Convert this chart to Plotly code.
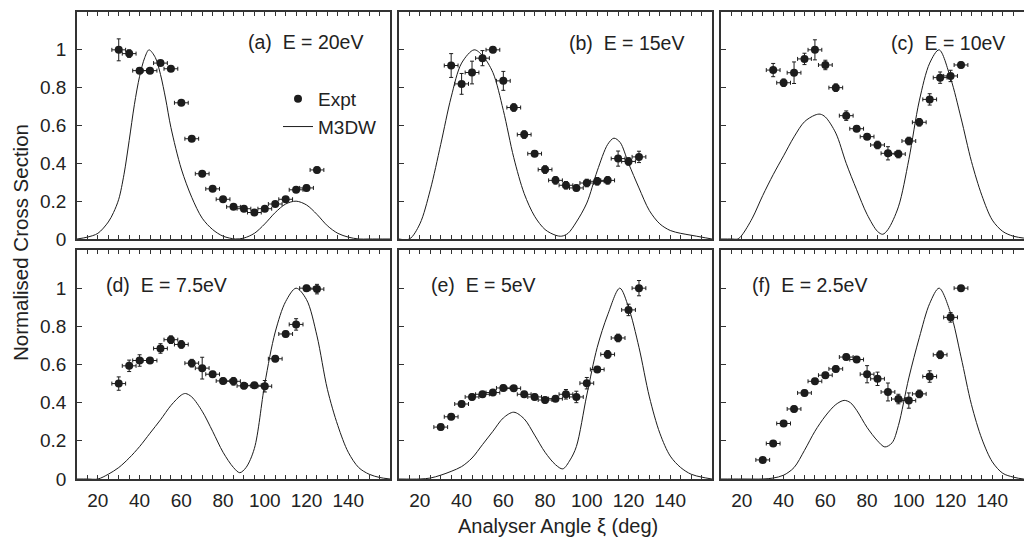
import plotly.graph_objects as go

# ---------------- data ----------------
angles_a = [30, 35, 40, 45, 50, 55, 60, 65, 70, 75, 80, 85, 90, 95, 100, 105, 110, 115, 120, 125]
expt_a = [1.00, 0.98, 0.89, 0.89, 0.93, 0.90, 0.72, 0.53, 0.345, 0.265, 0.21, 0.17, 0.16, 0.14, 0.16, 0.185, 0.21, 0.26, 0.27, 0.365]
err_a = [0.058, 0.02, 0.015, 0.01, 0.01, 0.01, 0.01, 0.01, 0.01, 0.01, 0.01, 0.01, 0.01, 0.01, 0.01, 0.01, 0.01, 0.01, 0.015, 0.015]

angles_b = [35, 40, 45, 50, 55, 60, 65, 70, 75, 80, 85, 90, 95, 100, 105, 110, 115, 120, 125]
expt_b = [0.917, 0.82, 0.88, 0.956, 1.0, 0.836, 0.695, 0.552, 0.451, 0.367, 0.31, 0.284, 0.27, 0.296, 0.305, 0.31, 0.425, 0.41, 0.434]
err_b = [0.063, 0.055, 0.06, 0.04, 0.015, 0.05, 0.02, 0.02, 0.015, 0.02, 0.02, 0.02, 0.015, 0.02, 0.02, 0.02, 0.04, 0.02, 0.03]

angles_c = [35, 40, 45, 50, 55, 60, 65, 70, 75, 80, 85, 90, 95, 100, 105, 110, 115, 120, 125]
expt_c = [0.893, 0.826, 0.879, 0.952, 1.0, 0.92, 0.80, 0.652, 0.583, 0.541, 0.497, 0.453, 0.449, 0.518, 0.617, 0.738, 0.853, 0.862, 0.92]
err_c = [0.035, 0.02, 0.057, 0.03, 0.053, 0.025, 0.02, 0.025, 0.015, 0.015, 0.02, 0.035, 0.02, 0.02, 0.02, 0.03, 0.03, 0.03, 0.015]

angles_d = [30, 35, 40, 45, 50, 55, 60, 65, 70, 75, 80, 85, 90, 95, 100, 105, 110, 115, 120, 125]
expt_d = [0.50, 0.593, 0.621, 0.621, 0.684, 0.73, 0.705, 0.607, 0.581, 0.549, 0.514, 0.512, 0.488, 0.491, 0.486, 0.63, 0.76, 0.81, 1.0, 0.995]
err_d = [0.035, 0.03, 0.03, 0.015, 0.025, 0.02, 0.02, 0.02, 0.057, 0.015, 0.015, 0.02, 0.015, 0.015, 0.03, 0.015, 0.015, 0.03, 0.015, 0.025]

angles_e = [30, 35, 40, 45, 50, 55, 60, 65, 70, 75, 80, 85, 90, 95, 100, 105, 110, 115, 120, 125]
expt_e = [0.272, 0.326, 0.393, 0.43, 0.444, 0.453, 0.477, 0.475, 0.444, 0.43, 0.414, 0.421, 0.444, 0.43, 0.502, 0.574, 0.653, 0.739, 0.886, 1.0]
err_e = [0.015, 0.015, 0.015, 0.015, 0.015, 0.015, 0.015, 0.015, 0.015, 0.015, 0.015, 0.015, 0.025, 0.03, 0.03, 0.015, 0.02, 0.02, 0.03, 0.04]

angles_f = [30, 35, 40, 45, 50, 55, 60, 65, 70, 75, 80, 85, 90, 95, 100, 105, 110, 115, 120, 125]
expt_f = [0.10, 0.186, 0.291, 0.367, 0.451, 0.512, 0.544, 0.577, 0.639, 0.626, 0.549, 0.525, 0.456, 0.419, 0.411, 0.446, 0.537, 0.651, 0.847, 1.0]
err_f = [0.01, 0.01, 0.015, 0.015, 0.015, 0.015, 0.015, 0.015, 0.015, 0.015, 0.045, 0.035, 0.047, 0.025, 0.04, 0.02, 0.03, 0.02, 0.025, 0.01]

angle_err = 3.3

theory_x_a = [10, 15, 20, 25, 27.5, 30, 32.5, 35, 37.5, 40, 42.5, 44.5, 47.5, 50, 52.5, 55, 60, 65, 70, 75, 80, 86, 90, 95, 100, 105, 110, 115, 120, 125, 130, 135, 140, 145, 150, 160]
theory_a = [0, 0.01, 0.03, 0.09, 0.14, 0.21, 0.34, 0.52, 0.71, 0.86, 0.96, 1.0, 0.96, 0.87, 0.74, 0.59, 0.37, 0.22, 0.11, 0.05, 0.015, 0.0, 0.005, 0.03, 0.08, 0.14, 0.185, 0.2, 0.18, 0.13, 0.07, 0.03, 0.01, 0.0, 0, 0]

theory_x_b = [10, 15, 20, 25, 30, 35, 40, 46, 50, 55, 60, 65, 70, 75, 80, 85, 88, 91, 95, 100, 105, 110, 113, 116, 120, 125, 130, 135, 140, 145, 150, 155, 160]
theory_b = [0, 0.0, 0.08, 0.26, 0.5, 0.75, 0.93, 1.0, 0.97, 0.88, 0.68, 0.43, 0.24, 0.12, 0.05, 0.02, 0.015, 0.03, 0.09, 0.19, 0.36, 0.5, 0.533, 0.51, 0.4, 0.27, 0.15, 0.08, 0.045, 0.03, 0.02, 0.01, 0.0]

theory_x_c = [10, 15, 18, 20, 25, 30, 35, 40, 45, 50, 55, 57.5, 60, 65, 70, 75, 80, 85, 87.5, 90, 95, 100, 105, 110, 114.5, 120, 125, 130, 135, 140, 145, 150, 155, 160]
theory_c = [0, 0, 0.0, 0.02, 0.11, 0.23, 0.34, 0.44, 0.54, 0.62, 0.655, 0.66, 0.645, 0.56, 0.4, 0.26, 0.13, 0.04, 0.025, 0.05, 0.17, 0.42, 0.73, 0.93, 1.0, 0.85, 0.64, 0.41, 0.23, 0.1, 0.04, 0.015, 0.005, 0]

theory_x_d = [10, 15, 20, 25, 30, 35, 40, 45, 50, 55, 60, 62, 65, 70, 75, 80, 85, 88, 91, 95, 100, 105, 110, 115, 120, 125, 130, 135, 140, 145, 150, 155, 160]
theory_d = [0, 0, 0, 0.025, 0.06, 0.11, 0.17, 0.24, 0.31, 0.385, 0.44, 0.448, 0.43, 0.355, 0.25, 0.14, 0.06, 0.033, 0.06, 0.16, 0.5, 0.77, 0.93, 1.0, 0.94, 0.75, 0.47, 0.28, 0.14, 0.06, 0.025, 0.008, 0]

theory_x_e = [10, 20, 25, 30, 35, 40, 45, 50, 55, 60, 65, 70, 75, 80, 85, 88.5, 92, 95, 100, 105, 110, 115.8, 120, 125, 130, 135, 140, 145, 150, 155, 160]
theory_e = [0, 0, 0.005, 0.02, 0.04, 0.065, 0.11, 0.18, 0.25, 0.32, 0.35, 0.315, 0.23, 0.14, 0.075, 0.053, 0.1, 0.17, 0.44, 0.69, 0.86, 1.0, 0.9, 0.69, 0.43, 0.24, 0.12, 0.06, 0.025, 0.01, 0]

theory_x_f = [10, 20, 30, 35, 40, 45, 50, 55, 60, 65, 69, 72, 75, 80, 85, 88.5, 92, 95, 100, 105, 110, 114.5, 120, 125, 130, 135, 140, 145, 150, 155, 160]
theory_f = [0, 0, 0, 0.005, 0.02, 0.06, 0.15, 0.25, 0.33, 0.39, 0.412, 0.40, 0.36, 0.27, 0.2, 0.168, 0.19, 0.28, 0.53, 0.74, 0.92, 1.0, 0.87, 0.64, 0.39, 0.21, 0.09, 0.03, 0.01, 0, 0]

panel_labels = ["(a)\u00a0\u00a0E = 20eV", "(b)\u00a0\u00a0E = 15eV", "(c)\u00a0\u00a0E = 10eV",
                "(d)\u00a0\u00a0E = 7.5eV", "(e)\u00a0\u00a0E = 5eV", "(f)\u00a0\u00a0E = 2.5eV"]
x_tick_vals = list(range(15, 160, 5))
x_tick_text = [str(v) if (v % 20 == 0 and 20 <= v <= 140) else "" for v in x_tick_vals]
y_tick_vals = [0, 0.2, 0.4, 0.6, 0.8, 1.0]
y_tick_text = ["0", "0.2", "0.4", "0.6", "0.8", "1"]

panels = [
    (angles_a, expt_a, err_a, theory_x_a, theory_a),
    (angles_b, expt_b, err_b, theory_x_b, theory_b),
    (angles_c, expt_c, err_c, theory_x_c, theory_c),
    (angles_d, expt_d, err_d, theory_x_d, theory_d),
    (angles_e, expt_e, err_e, theory_x_e, theory_e),
    (angles_f, expt_f, err_f, theory_x_f, theory_f),
]

# ---------------- layout geometry (pixels) ----------------
W, H = 1024, 539
col_px = [(77, 390), (399, 712), (721, 1024)]
row_px = [(12, 239), (250, 479)]
x_ranges = [[10, 160], [10, 160], [10, 10 + (1024 - 721) / 2.087]]
label_pos = [(246, 42), (567, 43), (889, 43), (104, 285), (429, 285), (750, 285)]

INK = "#1c1c1c"
AX = "#333333"
FONT = "Liberation Sans, Arial, Helvetica, sans-serif"

fig = go.Figure()
layout = {}
annotations = []

for i, (ang, ex, er, tx, ty) in enumerate(panels):
    r, c = divmod(i, 3)
    n = i + 1
    xa = "x" if n == 1 else f"x{n}"
    ya = "y" if n == 1 else f"y{n}"
    fig.add_trace(go.Scatter(
        x=tx, y=ty, mode="lines", xaxis=xa, yaxis=ya,
        line=dict(color=INK, width=1, shape="spline", smoothing=0.9),
        name="M3DW", showlegend=(i == 0), legendrank=2, hoverinfo="skip"))
    fig.add_trace(go.Scatter(
        x=ang, y=ex, mode="markers", xaxis=xa, yaxis=ya,
        marker=dict(color=INK, size=8),
        error_x=dict(type="constant", value=angle_err, color=INK, thickness=1, width=2),
        error_y=dict(type="data", array=er, color=INK, thickness=1, width=2),
        name="Expt", showlegend=(i == 0), legendrank=1))

    x0, x1 = col_px[c]
    t0, t1 = row_px[r]
    key_x = "xaxis" if n == 1 else f"xaxis{n}"
    key_y = "yaxis" if n == 1 else f"yaxis{n}"
    layout[key_x] = dict(
        domain=[x0 / W, x1 / W], range=x_ranges[c], anchor=ya,
        showline=True, linecolor=AX, linewidth=1.6, mirror="allticks",
        ticks="inside", ticklen=4, tickwidth=1, tickcolor=AX,
        tickvals=x_tick_vals, ticktext=x_tick_text,
        showticklabels=(r == 1), ticklabelstandoff=3,
        tickfont=dict(size=19, color="#222", family=FONT),
        showgrid=False, zeroline=False, automargin=False)
    layout[key_y] = dict(
        domain=[1 - t1 / H, 1 - t0 / H], range=[0, 1.2], anchor=xa,
        showline=True, linecolor=AX, linewidth=1.6, mirror=(c != 2),
        ticks="inside", ticklen=5, tickwidth=1, tickcolor=AX,
        tickvals=y_tick_vals, ticktext=y_tick_text,
        showticklabels=(c == 0), ticklabelstandoff=5,
        tickfont=dict(size=19, color="#222", family=FONT),
        showgrid=False, zeroline=False, automargin=False)
    lx, ly = label_pos[i]
    annotations.append(dict(
        text=panel_labels[i], xref="paper", yref="paper",
        x=lx / W, y=1 - ly / H, xanchor="left", yanchor="middle",
        showarrow=False, font=dict(size=19.5, color="#222", family=FONT)))

annotations.append(dict(
    text="Analyser Angle \u03be (deg)", xref="paper", yref="paper",
    x=558 / W, y=1 - 526 / H, xanchor="center", yanchor="middle",
    showarrow=False, font=dict(size=20, color="#222", family=FONT)))
annotations.append(dict(
    text="Normalised Cross Section", xref="paper", yref="paper",
    x=20 / W, y=1 - 243 / H, xanchor="center", yanchor="middle", textangle=-90,
    showarrow=False, font=dict(size=20.5, color="#222", family=FONT)))

fig.update_layout(
    width=W, height=H,
    margin=dict(l=0, r=0, t=0, b=0, autoexpand=False),
    paper_bgcolor="white", plot_bgcolor="white",
    font=dict(family=FONT, color="#222"),
    showlegend=True,
    legend=dict(x=278 / W, y=1 - 80 / H, xanchor="left", yanchor="top",
                bgcolor="rgba(0,0,0,0)", borderwidth=0,
                font=dict(size=19, color="#222", family=FONT),
                itemwidth=30, tracegroupgap=0),
    annotations=annotations,
    **layout)

fig.write_html("out.html",
               config={"displayModeBar": False},
               post_script="document.body.style.margin='0';document.body.style.overflow='hidden';")
